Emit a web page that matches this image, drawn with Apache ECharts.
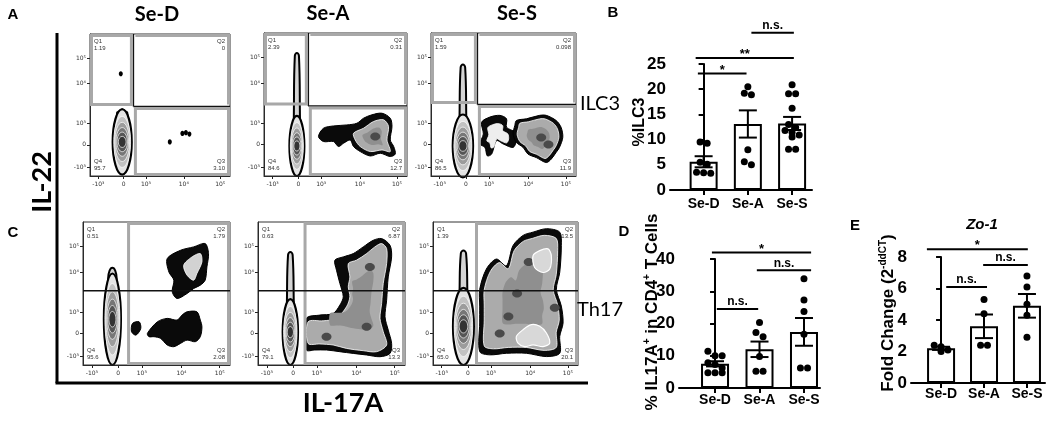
<!DOCTYPE html>
<html><head><meta charset="utf-8">
<script src="https://cdn.jsdelivr.net/npm/echarts@6/dist/echarts.min.js"></script>
<style>html,body{margin:0;padding:0;background:#fff}#c{width:1060px;height:423px}</style>
</head><body><div id="c"></div>
<script>
// ================= DATA =================
const groups = ['Se-D', 'Se-A', 'Se-S'];

// flow cytometry display scale (biexponential axis, 0–100 % of the plot)
const flowXTickPos = [6, 24, 40, 67, 93];
const flowYTickPos = [6, 22, 37, 65, 83];
const flowTickText = ['-10³', '0', '10³', '10⁴', '10⁵'];

// quadrant gates [x, y] and quadrant frequencies Q1..Q4
const ilc3Gates = [[31, 49], [31, 49], [32, 50]];
const ilc3Quads = [['1.19', '0', '3.10', '95.7'], ['2.39', '0.31', '12.7', '84.6'], ['1.59', '0.098', '11.9', '86.5']];
const th17Gates = [[31, 52], [32, 52], [30, 52]];
const th17Quads = [['0.51', '1.79', '2.08', '95.6'], ['0.63', '6.87', '13.3', '79.1'], ['1.39', '13.5', '20.1', '65.0']];

// IL-17A negative populations: [cx, cy, rx, ry, tail top, tail half width]
const ilc3Neg = [[23, 24, 6.8, 23, 47, 4], [23, 21, 5.2, 21, 86, 2.4], [22, 21, 7, 22, 78, 2.6]];
const th17Neg = [[20, 32, 5.8, 32, 68, 3.2], [22, 23, 5.2, 23, 79, 2.6], [21, 27, 7.2, 27, 80, 3]];

// event clusters (contour outlines, display scale)
const ilc3SeD_dots = [[22, 72], [57, 24], [66, 30], [68.5, 30.5], [71, 29.5]];
const ilc3SeA_outer = [[38.1,27.6],[41.6,33.4],[48.6,35.0],[57.9,35.7],[65.0,36.9],[69.6,40.4],[75.5,42.8],[82.5,43.9],[88.3,40.4],[89.5,34.6],[88.3,25.2],[90.7,20.6],[91.8,15.4],[88.3,13.6],[81.3,15.9],[74.3,14.0],[67.3,17.1],[62.6,20.6],[60.3,25.2],[55.6,22.9],[52.1,20.6],[48.6,24.1],[41.6,24.1]];
const ilc3SeA_inner = [[62.6,29.9],[69.6,33.4],[76.6,38.1],[83.6,39.3],[87.1,34.6],[86.0,25.2],[88.3,17.1],[82.5,18.2],[74.3,17.1],[67.3,20.6],[63.8,25.2]];
const ilc3SeA_core = [[77.8, 27.6]];
const ilc3SeS_main = [[57.8,35.3],[58.9,38.8],[65.8,40.0],[74.9,42.4],[79.5,42.4],[86.3,38.8],[89.7,34.1],[90.9,27.1],[88.6,20.0],[86.3,16.5],[82.9,11.8],[79.5,9.4],[72.6,12.9],[66.9,15.3],[63.5,20.0],[58.9,23.5],[56.6,29.4]];
const ilc3SeS_side = [[34.9,37.6],[40.6,41.2],[47.5,42.4],[52.1,40.0],[52.1,34.1],[57.8,30.6],[58.9,24.7],[56.6,20.0],[49.8,22.4],[45.2,24.7],[41.8,15.3],[38.8,14.1],[37.2,20.0],[33.8,22.4],[36.1,29.4]];
const ilc3SeS_core = [[76, 27], [81, 22]];
const th17SeD_q2 = [[57.3,74.4],[66.3,80.2],[75.3,82.6],[83.1,84.9],[85.4,77.9],[84.3,68.6],[83.1,59.3],[79.8,55.8],[75.3,53.5],[70.8,50.0],[64.0,46.5],[60.7,51.2],[61.8,59.3],[58.4,65.1]];
const th17SeD_q2Inner = [[68.5,69.8],[74.2,75.6],[79.8,77.9],[80.9,72.1],[77.5,64.0],[75.3,59.3],[70.8,62.8]];
const th17SeD_q3 = [[43.8,22.1],[50.6,30.2],[57.3,32.6],[64.0,31.4],[67.4,34.9],[70.8,37.2],[77.5,37.2],[79.8,31.4],[80.9,26.7],[79.8,19.8],[76.4,16.3],[70.8,17.4],[66.3,15.1],[61.8,12.8],[57.3,14.0],[52.8,18.6],[48.3,19.8],[44.9,19.8]];
const th17SeD_small = [[33.7,29.1],[38.2,30.2],[39.3,25.6],[36.0,20.9],[33.0,23.3]];
const th17SeA_outer = [[33.0,32.6],[42.0,34.9],[51.1,36.0],[55.7,41.9],[58.0,47.7],[55.7,57.0],[53.4,66.3],[52.3,73.3],[58.0,75.6],[64.8,77.9],[71.6,82.6],[78.4,87.2],[84.1,88.4],[89.8,83.7],[90.9,75.6],[88.6,61.6],[87.5,45.3],[86.4,33.7],[88.6,24.4],[90.9,15.1],[89.8,8.1],[83.0,5.8],[73.9,7.0],[64.8,8.1],[55.7,9.3],[46.6,10.5],[38.6,10.5],[33.0,10.5]];
const th17SeA_inner = [[34.1,30.2],[44.3,30.9],[53.4,32.6],[60.2,40.7],[62.5,47.7],[61.4,54.7],[62.5,61.6],[61.4,70.9],[67.0,73.3],[73.9,77.9],[79.5,82.6],[84.1,84.9],[87.5,81.4],[87.5,70.9],[85.2,57.0],[84.1,43.0],[83.0,32.6],[85.2,23.3],[87.5,14.0],[80.7,9.3],[71.6,10.0],[60.2,11.6],[51.1,14.0],[42.0,14.7],[34.1,15.1]];
const th17SeA_core = [[73.9, 26.7], [76.1, 68.6], [46.6, 19.8]];
const th17SeS_outer = [[32.2,52.9],[36.8,67.1],[43.7,74.1],[50.6,69.4],[55.2,83.5],[62.1,90.6],[69.0,92.9],[78.2,95.3],[87.4,92.9],[88.5,83.5],[87.4,64.7],[85.1,52.9],[88.5,41.2],[89.7,29.4],[87.4,20.0],[87.4,8.2],[78.2,5.9],[64.4,8.2],[50.6,8.2],[39.1,7.1],[32.2,9.4],[32.2,29.4],[32.2,41.2]];
const th17SeS_core = [[46, 22], [58, 50], [52, 34], [66, 72], [84, 40]];
const th17SeS_patchQ2 = [[69.0,76.5],[73.6,80.0],[79.3,81.2],[81.6,76.5],[80.5,67.1],[75.9,64.7],[70.1,68.2]];
const th17SeS_patchQ3 = [[57.5,20.0],[62.1,24.7],[67.8,28.2],[73.6,27.1],[78.2,22.4],[80.5,15.3],[75.9,12.9],[69.0,14.1],[63.2,12.9],[58.6,15.3]];

// B: %ILC3
const ilc3Mean = [5.6, 13.1, 13.2];
const ilc3Sem = [1.1, 2.7, 1.3];
const ilc3Points = [[9.3, 9.5, 5.5, 5.1, 3.5, 3.4, 3.3], [20.5, 19.2, 18.9, 8.0, 5.6, 5.0], [20.9, 19.1, 19.1, 16.2, 13.0, 12.4, 11.8, 11.4, 10.9, 10.5, 8.1, 8.1]];
const ilc3Sig = [[-0.13, 0.97, 23.1, '*'], [-0.18, 2.04, 26.2, '**'], [1.08, 2.04, 31.2, 'n.s.']];
// D: % IL17A+ in CD4+ T cells
const th17Mean = [7.5, 12.0, 17.4];
const th17Sem = [0.8, 2.4, 4.3];
const th17Points = [[11.4, 10.0, 10.0, 7.8, 7.3, 6.2, 4.7, 4.7, 4.7], [20.3, 17.2, 15.9, 9.8, 5.2, 5.2], [33.9, 27.3, 23.7, 16.7, 6.2, 6.2]];
const th17Sig = [[-0.07, 2.16, 42.0, '*'], [0.94, 2.16, 36.5, 'n.s.'], [0.04, 0.97, 24.5, 'n.s.']];
// E: Zo-1 fold change
const zoMean = [2.2, 3.6, 4.9];
const zoSem = [0.1, 0.75, 0.75];
const zoPoints = [[2.4, 2.3, 2.1, 2.0], [5.3, 4.4, 2.4, 2.4], [6.8, 6.1, 5.0, 4.3, 2.9]];
const zoSig = [[-0.33, 2.02, 8.5, '*'], [0.98, 2.02, 7.5, 'n.s.'], [0.12, 1.07, 6.1, 'n.s.']];

// ================= BUILD =================
const FONT = '"Liberation Sans", Arial, sans-serif';
const GRAY = '#a8a8a8';

function shrink(pts, k) {
  let cx = 0, cy = 0;
  pts.forEach(p => { cx += p[0]; cy += p[1]; });
  cx /= pts.length; cy /= pts.length;
  return pts.map(p => [cx + (p[0] - cx) * k, cy + (p[1] - cy) * k]);
}

const flowSpecs = [
  { row: 0, gate: ilc3Gates[0], quads: ilc3Quads[0], neg: ilc3Neg[0], shapes: [{ dots: ilc3SeD_dots }] },
  { row: 0, gate: ilc3Gates[1], quads: ilc3Quads[1], neg: ilc3Neg[1], shapes: [{ outer: ilc3SeA_outer, inner: ilc3SeA_inner, cores: ilc3SeA_core }] },
  { row: 0, gate: ilc3Gates[2], quads: ilc3Quads[2], neg: ilc3Neg[2], shapes: [
      { outer: ilc3SeS_side, inner: shrink(ilc3SeS_side, 0.6), innerFill: '#eeeeee' },
      { outer: ilc3SeS_main, inner: shrink(ilc3SeS_main, 0.84), cores: ilc3SeS_core }] },
  { row: 1, gate: th17Gates[0], quads: th17Quads[0], neg: th17Neg[0], shapes: [
      { outer: th17SeD_q2, inner: th17SeD_q2Inner, innerFill: '#d2d2d2' },
      { outer: th17SeD_q3 }, { outer: th17SeD_small }] },
  { row: 1, gate: th17Gates[1], quads: th17Quads[1], neg: th17Neg[1], shapes: [{ outer: th17SeA_outer, inner: th17SeA_inner, cores: th17SeA_core }] },
  { row: 1, gate: th17Gates[2], quads: th17Quads[2], neg: th17Neg[2], shapes: [
      { outer: th17SeS_outer, inner: shrink(th17SeS_outer, 0.9), cores: th17SeS_core, patches: [th17SeS_patchQ2, th17SeS_patchQ3] }] }
];

function renderFlow(spec, api) {
  const c = p => api.coord(p);
  const ch = [];
  spec.shapes.forEach(s => {
    if (s.dots) s.dots.forEach(d => { const p = c(d); ch.push({ type: 'ellipse', shape: { cx: p[0], cy: p[1], rx: 2, ry: 2.6 }, style: { fill: '#000' } }); });
    if (s.outer) ch.push({ type: 'polygon', shape: { points: s.outer.map(c), smooth: 0.3 }, style: { fill: '#0a0a0a', stroke: '#000', lineWidth: 1 } });
    if (s.inner) ch.push({ type: 'polygon', shape: { points: s.inner.map(c), smooth: 0.3 }, style: { fill: s.innerFill || '#ababab', stroke: '#fff', lineWidth: 0.8 } });
    if (s.inner && !s.innerFill) ch.push({ type: 'polygon', shape: { points: shrink(s.inner, 0.55).map(c), smooth: 0.3 }, style: { fill: '#8f8f8f' } });
    (s.cores || []).forEach(d => { const p = c(d); ch.push({ type: 'ellipse', shape: { cx: p[0], cy: p[1], rx: 5, ry: 4 }, style: { fill: '#4a4a4a' } }); });
    (s.patches || []).forEach(pp => ch.push({ type: 'polygon', shape: { points: pp.map(c), smooth: 0.3 }, style: { fill: '#d8d8d8', stroke: '#fff', lineWidth: 1.2 } }));
  });
  const [cx, cy, rx, ry, tt, tw] = spec.neg;
  if (tt > cy + ry * 0.9) {
    const tail = [[cx - tw, cy], [cx - tw * 0.9, cy + ry * 0.9], [cx - tw * 0.6, tt - 2], [cx, tt], [cx + tw * 0.6, tt - 2], [cx + tw * 0.9, cy + ry * 0.9], [cx + tw, cy]];
    ch.push({ type: 'polygon', shape: { points: tail.map(c), smooth: 0.4 }, style: { fill: '#d4d4d4', stroke: '#000', lineWidth: 2 } });
  }
  const ctr = c([cx, cy]);
  const rxp = api.size([rx, 0])[0], ryp = api.size([0, ry])[1];
  const ks = [1, 0.78, 0.6, 0.44, 0.3, 0.17];
  const fills = ['#e4e4e4', '#c2c2c2', '#9c9c9c', '#777', '#555', '#333'];
  ks.forEach((k, j) => ch.push({ type: 'ellipse', shape: { cx: ctr[0], cy: ctr[1], rx: rxp * Math.sqrt(k), ry: ryp * k },
    style: { fill: fills[j], stroke: j === 0 ? '#000' : '#fff', lineWidth: j === 0 ? 2.2 : 0.7 } }));
  const bl = c([0, 0]), tr = c([100, 100]);
  const left = bl[0], bottom = bl[1], right = tr[0], top = tr[1];
  const q = c(spec.gate), qx = q[0], qy = q[1];
  ch.push({ type: 'rect', shape: { x: left, y: top, width: right - left, height: bottom - top }, style: { fill: 'none', stroke: '#333', lineWidth: 1 } });
  if (spec.row === 0) {
    ch.push({ type: 'line', shape: { x1: qx, y1: top, x2: qx, y2: qy }, style: { stroke: '#111', lineWidth: 1.5 } });
    ch.push({ type: 'line', shape: { x1: qx, y1: qy, x2: right, y2: qy }, style: { stroke: '#111', lineWidth: 1.5 } });
    ch.push({ type: 'polyline', shape: { points: [[qx + 2, top + 1.5], [right - 1.5, top + 1.5], [right - 1.5, qy - 2]] }, style: { fill: 'none', stroke: GRAY, lineWidth: 3 } });
    ch.push({ type: 'rect', shape: { x: left + 1.5, y: top + 1.5, width: qx - left - 3.5, height: qy - top - 3.5 }, style: { fill: 'none', stroke: GRAY, lineWidth: 3 } });
    ch.push({ type: 'rect', shape: { x: qx + 2, y: qy + 2, width: right - qx - 3.5, height: bottom - qy - 3.5 }, style: { fill: 'none', stroke: GRAY, lineWidth: 3 } });
  } else {
    ch.push({ type: 'rect', shape: { x: qx, y: top + 1.5, width: right - qx - 1.5, height: bottom - top - 3 }, style: { fill: 'none', stroke: GRAY, lineWidth: 3 } });
    ch.push({ type: 'line', shape: { x1: left, y1: qy, x2: right, y2: qy }, style: { stroke: '#111', lineWidth: 1.5 } });
  }
  const lab = (txt, x, y, al, va) => ch.push({ type: 'text', style: { text: txt, x, y, fill: '#333', font: '6px ' + FONT, lineHeight: 7,
    align: al, verticalAlign: va, textAlign: al, textVerticalAlign: va } });
  lab('Q1\n' + spec.quads[0], left + 4, top + 4, 'left', 'top');
  lab('Q2\n' + spec.quads[1], right - 5, top + 4, 'right', 'top');
  lab('Q3\n' + spec.quads[2], right - 5, bottom - 4, 'right', 'bottom');
  lab('Q4\n' + spec.quads[3], left + 4, bottom - 4, 'left', 'bottom');
  return { type: 'group', children: ch };
}

function swarm(points, yMax) {
  const out = [];
  const thr = yMax * 0.045;
  points.forEach((vals, g) => {
    const sorted = vals.slice().sort((a, b) => b - a);
    let row = [];
    const flush = () => { row.forEach((v, j) => out.push([g + (j - (row.length - 1) / 2) * 0.16, v])); row = []; };
    sorted.forEach(v => { if (row.length && row[0] - v > thr) flush(); row.push(v); });
    flush();
  });
  return out;
}

const flowGrids = [
  { left: 90, top: 34, width: 140, height: 142 },
  { left: 264, top: 33, width: 143, height: 143 },
  { left: 431, top: 33, width: 145, height: 143 },
  { left: 83, top: 222, width: 147, height: 143 },
  { left: 258, top: 222, width: 147, height: 143 },
  { left: 433, top: 222, width: 145, height: 143 }
];
const barGrids = [
  { left: 670, top: 64, width: 142, height: 126 },
  { left: 679, top: 259, width: 141, height: 129 },
  { left: 911, top: 257, width: 134, height: 126 }
];
const barX = [[-0.76, 2.45], [-0.81, 2.36], [-0.70, 2.42]];
const barY = [[0, 25, 5], [0, 40, 10], [0, 8, 2]];
const barLabelMargin = [7, 5, 4];
const barSets = [
  [ilc3Mean, ilc3Sem, ilc3Points, ilc3Sig],
  [th17Mean, th17Sem, th17Points, th17Sig],
  [zoMean, zoSem, zoPoints, zoSig]
];

const grids = [], xAxes = [], yAxes = [], series = [];
flowGrids.forEach((g, i) => {
  grids.push(Object.assign({ containLabel: false }, g));
  xAxes.push({ type: 'value', gridIndex: i, min: 0, max: 100,
    axisLine: { show: true, lineStyle: { color: '#222', width: 1 } },
    axisTick: { show: true, customValues: flowXTickPos, length: 3, lineStyle: { color: '#222' } },
    axisLabel: { customValues: flowXTickPos, formatter: v => flowTickText[flowXTickPos.indexOf(v)], fontSize: 6, color: '#333', margin: 5, fontFamily: 'DejaVu Sans' },
    splitLine: { show: false } });
  yAxes.push({ type: 'value', gridIndex: i, min: 0, max: 100,
    axisLine: { show: true, lineStyle: { color: '#222', width: 1 } },
    axisTick: { show: true, customValues: flowYTickPos, length: 3, lineStyle: { color: '#222' } },
    axisLabel: { customValues: flowYTickPos, formatter: v => flowTickText[flowYTickPos.indexOf(v)], fontSize: 6, color: '#333', margin: 4, fontFamily: 'DejaVu Sans' },
    splitLine: { show: false } });
  series.push({ type: 'custom', xAxisIndex: i, yAxisIndex: i, silent: true, data: [[50, 50]],
    renderItem: (p, api) => renderFlow(flowSpecs[i], api) });
});

barGrids.forEach((g, b) => {
  const gi = 6 + b;
  const [mean, sem, pts, sig] = barSets[b];
  grids.push(Object.assign({ containLabel: false }, g));
  xAxes.push({ type: 'value', gridIndex: gi, min: barX[b][0], max: barX[b][1],
    axisLine: { show: true, lineStyle: { color: '#000', width: 2 } },
    axisTick: { show: true, customValues: [0, 1, 2], length: 5, lineStyle: { color: '#000', width: 2 } },
    axisLabel: { customValues: [0, 1, 2], formatter: v => groups[v], fontSize: 14, fontWeight: 'bold', color: '#000', margin: barLabelMargin[b], fontFamily: FONT },
    splitLine: { show: false } });
  yAxes.push({ type: 'value', gridIndex: gi, min: barY[b][0], max: barY[b][1], interval: barY[b][2],
    axisLine: { show: true, lineStyle: { color: '#000', width: 2 } },
    axisTick: { show: true, length: 5, lineStyle: { color: '#000', width: 2 } },
    axisLabel: { fontSize: 17, fontWeight: 'bold', color: '#000', margin: 4, fontFamily: FONT },
    splitLine: { show: false } });
  series.push({ type: 'bar', xAxisIndex: gi, yAxisIndex: gi, barWidth: 28, z: 2, silent: true,
    data: mean.map((m, i) => [i, m]),
    itemStyle: { color: '#fff', borderColor: '#000', borderWidth: 2 } });
  series.push({ type: 'custom', xAxisIndex: gi, yAxisIndex: gi, z: 3, silent: true,
    data: mean.map((m, i) => [i, m, sem[i]]),
    renderItem: (p, api) => {
      const x = api.value(0), m = api.value(1), s = api.value(2);
      const t = api.coord([x, m + s]), d = api.coord([x, m - s]);
      const st = { stroke: '#000', lineWidth: 2 };
      return { type: 'group', children: [
        { type: 'line', shape: { x1: t[0], y1: t[1], x2: d[0], y2: d[1] }, style: st },
        { type: 'line', shape: { x1: t[0] - 9, y1: t[1], x2: t[0] + 9, y2: t[1] }, style: st },
        { type: 'line', shape: { x1: d[0] - 9, y1: d[1], x2: d[0] + 9, y2: d[1] }, style: st } ] };
    } });
  series.push({ type: 'scatter', xAxisIndex: gi, yAxisIndex: gi, z: 4, silent: true,
    symbolSize: 7, itemStyle: { color: '#000', opacity: 1 }, data: swarm(pts, barY[b][1]) });
  series.push({ type: 'custom', xAxisIndex: gi, yAxisIndex: gi, z: 4, silent: true,
    data: sig.map(s => [s[0], s[2]]),
    renderItem: (p, api) => {
      const s = sig[p.dataIndex];
      const a = api.coord([s[0], s[2]]), e = api.coord([s[1], s[2]]);
      const star = s[3].indexOf('*') === 0;
      return { type: 'group', children: [
        { type: 'line', shape: { x1: a[0], y1: a[1], x2: e[0], y2: e[1] }, style: { stroke: '#000', lineWidth: 2 } },
        { type: 'text', style: { text: s[3], x: (a[0] + e[0]) / 2, y: a[1] + (star ? 3 : -1), fill: '#000',
          font: 'bold ' + (star ? 13 : 12) + 'px ' + FONT, align: 'center', verticalAlign: 'bottom', textAlign: 'center', textVerticalAlign: 'bottom' } } ] };
    } });
});

function txt(text, x, y, font, extra) {
  return Object.assign({ type: 'text', x, y, z: 100, silent: true,
    style: { text, font, fill: '#000', align: 'center', verticalAlign: 'middle', textAlign: 'center', textVerticalAlign: 'middle' } }, extra || {});
}
const HEAD = 'bold 20px Lato, "Open Sans", sans-serif';
const graphic = [
  txt('A', 13, 15, 'bold 15px ' + FONT),
  txt('B', 613, 13, 'bold 15px ' + FONT),
  txt('C', 13, 233, 'bold 15px ' + FONT),
  txt('D', 624, 232, 'bold 15px ' + FONT),
  txt('E', 855, 226, 'bold 15px ' + FONT),
  txt(groups[0], 157, 15, HEAD),
  txt(groups[1], 328, 14, HEAD),
  txt(groups[2], 517, 14, HEAD),
  txt('IL-22', 42, 182, 'bold 27px Lato, sans-serif', { rotation: Math.PI / 2 }),
  txt('IL-17A', 343, 403, 'bold 27px Lato, sans-serif'),
  txt('ILC3', 600, 104, '20px Lato, sans-serif'),
  txt('Th17', 600, 310, '20px Lato, sans-serif'),
  txt('Zo-1', 982, 225, 'italic bold 15px ' + FONT),
  txt('%ILC3', 640, 122, 'bold 16px ' + FONT, { rotation: Math.PI / 2 }),
  { type: 'text', x: 652, y: 312, z: 100, rotation: Math.PI / 2, silent: true,
    style: { text: '{n|% IL17A}{s|+}{n| in CD4}{s|+}{n| T Cells}', align: 'center', verticalAlign: 'middle', textAlign: 'center', textVerticalAlign: 'middle',
      rich: { n: { font: 'bold 17px ' + FONT, fill: '#000', lineHeight: 20 }, s: { font: 'bold 10px ' + FONT, fill: '#000', lineHeight: 20, verticalAlign: 'top', padding: [0, 0, 8, 0] } } } },
  { type: 'text', x: 888, y: 313, z: 100, rotation: Math.PI / 2, silent: true,
    style: { text: '{n|Fold Change (2}{s|-ddCT}{n|)}', align: 'center', verticalAlign: 'middle', textAlign: 'center', textVerticalAlign: 'middle',
      rich: { n: { font: 'bold 17px ' + FONT, fill: '#000', lineHeight: 20 }, s: { font: 'bold 10px ' + FONT, fill: '#000', lineHeight: 20, verticalAlign: 'top', padding: [0, 0, 8, 0] } } } },
  { type: 'line', z: 100, silent: true, shape: { x1: 57, y1: 33, x2: 57, y2: 383 }, style: { stroke: '#000', lineWidth: 3 } },
  { type: 'line', z: 100, silent: true, shape: { x1: 55.5, y1: 383, x2: 588, y2: 383 }, style: { stroke: '#000', lineWidth: 3 } }
];

const chart = echarts.init(document.getElementById('c'), null, { renderer: 'canvas' });
chart.setOption({ animation: false, backgroundColor: '#fff', grid: grids, xAxis: xAxes, yAxis: yAxes, series, graphic });
</script></body></html>
